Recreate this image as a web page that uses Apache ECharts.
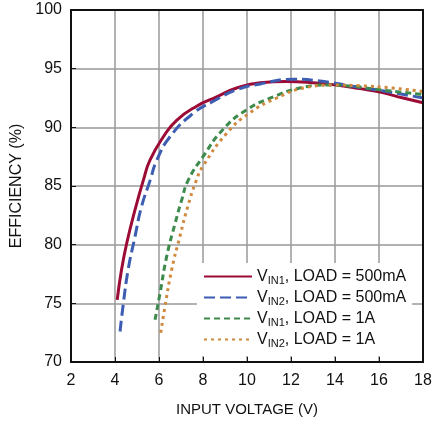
<!DOCTYPE html>
<html>
<head>
<meta charset="utf-8">
<script src="https://cdn.jsdelivr.net/npm/echarts@6/dist/echarts.min.js"></script>
<style>html,body{margin:0;padding:0;background:#fff;}#c{width:445px;height:423px;}</style>
</head>
<body>
<div id="c"></div>
<script>
var xTicks = [2, 4, 6, 8, 10, 12, 14, 16, 18];
var yTicks = [70, 75, 80, 85, 90, 95, 100];

var vin1_500mA = [[4.1,75.3],[4.3,77.9],[4.53,80.1],[4.9,82.9],[5.29,85.5],[5.59,87.2],[6.2,89.2],[6.8,90.6],[7.71,91.8],[8.62,92.6],[9.53,93.35],[10.6,93.8],[11.8,93.9],[13.0,93.8],[14.08,93.6],[15.14,93.3],[16.05,93.0],[17.1,92.5],[18,92.1]];
var vin2_500mA = [[4.23,72.6],[4.38,75.0],[4.6,77.9],[4.9,80.6],[5.2,83.2],[5.6,85.5],[5.9,87.2],[6.5,89.2],[7.56,91.2],[8.45,92.2],[9.53,93.2],[10.6,93.7],[12.1,94.1],[13.5,93.9],[14.8,93.5],[16.05,93.15],[18,92.5]];
var vin1_1A = [[5.82,73.6],[6.05,75.9],[6.35,79.0],[6.73,81.8],[7.03,83.8],[7.33,85.5],[8.0,87.5],[8.9,89.8],[9.99,91.5],[11.2,92.6],[12.4,93.35],[13.6,93.6],[14.8,93.5],[16.05,93.2],[18,92.8]];
var vin2_1A = [[6.08,72.5],[6.27,74.7],[6.58,77.9],[6.95,80.7],[7.3,83.2],[7.7,85.5],[8.0,86.7],[9.08,89.5],[10.1,91.2],[11.35,92.5],[12.7,93.4],[13.9,93.6],[15.1,93.55],[16.6,93.35],[18,93.05]];

var seriesNames = ['VIN1_500mA', 'VIN2_500mA', 'VIN1_1A', 'VIN2_1A'];
var legendLabels = {
  'VIN1_500mA': ['IN1', ', LOAD = 500mA'],
  'VIN2_500mA': ['IN2', ', LOAD = 500mA'],
  'VIN1_1A': ['IN1', ', LOAD = 1A'],
  'VIN2_1A': ['IN2', ', LOAD = 1A']
};

var FONT = '"Liberation Sans", Arial, sans-serif';
var chart = echarts.init(document.getElementById('c'), null, {renderer: 'canvas'});

function mk(name, data, color, type, width) {
  return {
    name: name, type: 'line', data: data, smooth: 0.5,
    showSymbol: false, symbol: 'none',
    lineStyle: {color: color, width: width, type: type, cap: 'butt'},
    itemStyle: {color: color},
    z: 3
  };
}

chart.setOption({
  animation: false,
  backgroundColor: '#fff',
  grid: {left: 71, right: 22, top: 10, bottom: 61, show: false},
  xAxis: {
    type: 'value', min: 2, max: 18, interval: 2,
    name: 'INPUT VOLTAGE (V)', nameLocation: 'middle', nameGap: 40,
    nameTextStyle: {fontFamily: FONT, fontSize: 15, color: '#111'},
    axisLine: {show: false},
    axisTick: {show: true, inside: true, length: 5, lineStyle: {color: '#111', width: 1}},
    axisLabel: {fontFamily: FONT, fontSize: 16, color: '#111', margin: 11},
    splitLine: {show: true, lineStyle: {color: '#999', width: 1.5}}
  },
  yAxis: {
    type: 'value', min: 70, max: 100, interval: 5,
    name: 'EFFICIENCY (%)', nameLocation: 'middle', nameGap: 41, nameRotate: 90,
    nameTextStyle: {fontFamily: FONT, fontSize: 16, color: '#111'},
    axisLine: {show: false},
    axisTick: {show: true, inside: true, length: 5, lineStyle: {color: '#111', width: 1}},
    axisLabel: {fontFamily: FONT, fontSize: 16, color: '#111', margin: 9},
    splitLine: {show: true, lineStyle: {color: '#999', width: 1.5}}
  },
  graphic: [{
    type: 'rect', shape: {x: 71, y: 10, width: 352, height: 352},
    style: {fill: null, stroke: '#111', lineWidth: 2}, z: 10, silent: true
  }],
  legend: {
    orient: 'vertical', left: 197, top: 263,
    backgroundColor: '#fff', padding: [4, 6, 7, 6], itemGap: 2,
    itemWidth: 48, itemHeight: 20,
    itemStyle: {opacity: 0},
    data: seriesNames,
    formatter: function (n) {
      var l = legendLabels[n];
      return '{n|V}{s|' + l[0] + '}{n|' + l[1] + '}';
    },
    textStyle: {
      fontFamily: FONT, fontSize: 16, color: '#111',
      rich: {
        n: {fontFamily: FONT, fontSize: 16, color: '#111', lineHeight: 20},
        s: {fontFamily: FONT, fontSize: 11, color: '#111', lineHeight: 20, padding: [8, 0, 0, 0]}
      }
    }
  },
  series: [
    mk('VIN1_500mA', vin1_500mA, '#9C0A36', 'solid', 3),
    mk('VIN2_500mA', vin2_500mA, '#3D5DB3', [11, 5], 3),
    mk('VIN1_1A', vin1_1A, '#3C8B4C', [6, 4], 3),
    mk('VIN2_1A', vin2_1A, '#D0883C', [3, 4], 3)
  ]
});
</script>
</body>
</html>
